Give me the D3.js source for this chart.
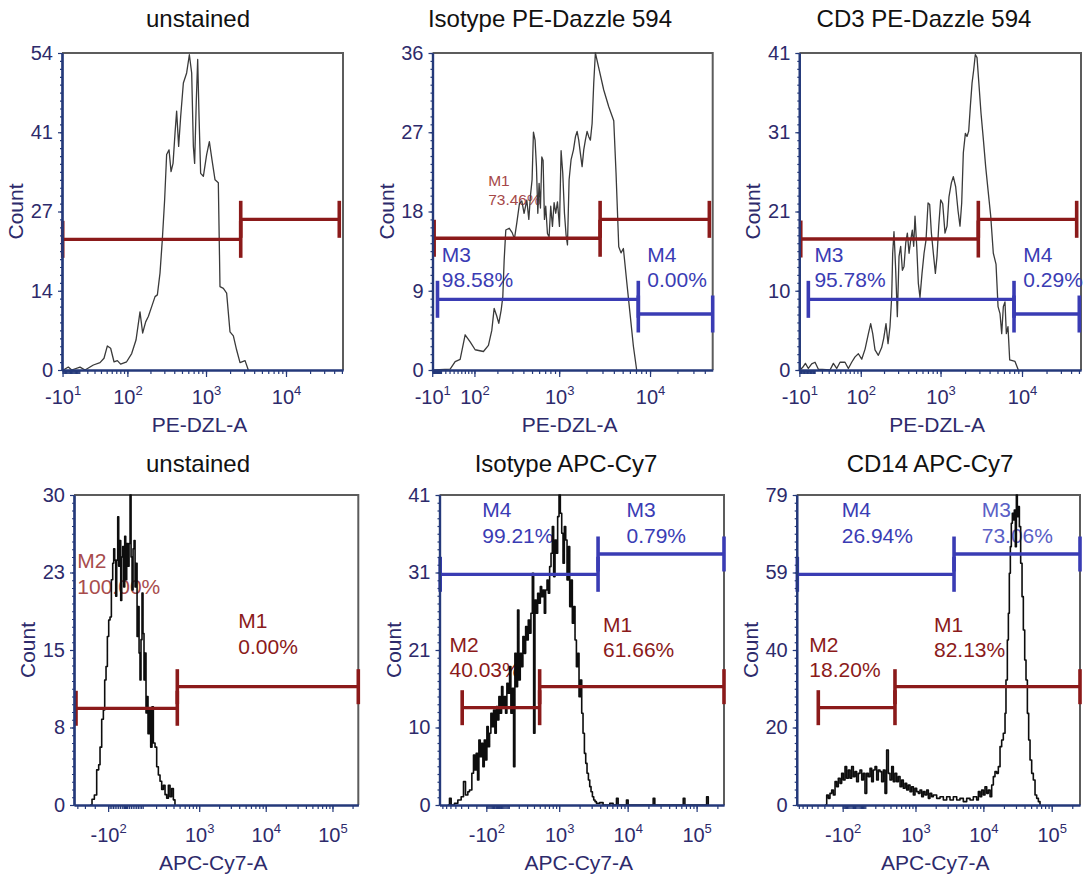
<!DOCTYPE html>
<html>
<head>
<meta charset="utf-8">
<script src="https://cdn.jsdelivr.net/npm/d3@7"></script>
<style>
  body { margin: 0; background: #fff; }
  svg text { font-family: "Liberation Sans", Arial, sans-serif; }
</style>
</head>
<body>
<svg id="chart" width="1087" height="879"></svg>
<script>
// Flow cytometry histograms - six panels (PE-Dazzle 594 row, APC-Cy7 row)

// ---- data -------------------------------------------------------------
const titles = ['unstained', 'Isotype PE-Dazzle 594', 'CD3 PE-Dazzle 594',
                'unstained', 'Isotype APC-Cy7', 'CD14 APC-Cy7'];
const xLabels = ['PE-DZL-A', 'PE-DZL-A', 'PE-DZL-A', 'APC-Cy7-A', 'APC-Cy7-A', 'APC-Cy7-A'];
const yMaxes = [54, 36, 41, 30, 41, 79];

// x extent of each plot in display decades (biexponential channel units)
const xDomains = [[1.2, 4.7125], [1.608, 4.689], [1.267, 4.724],
                  [1.127, 5.387], [1.272, 5.397], [1.269, 5.414]];
// width of the linear region around zero used by each display transform
const linWidths = [20.5, 45, 23, 79, 130, 128];

// tick values and labels [value, base, exponent]
const peTicks = [[-10, '-10', '1'], [100, '10', '2'], [1000, '10', '3'], [10000, '10', '4']];
const apcTicks = [[-100, '-10', '2'], [1000, '10', '3'], [10000, '10', '4'], [100000, '10', '5']];

// histograms: [channel (decades), count]
const histUnstainedPE = [[1.2,0],[1.217,0],[1.279,0.5],[1.321,0],[1.425,0.5],[1.488,0],[1.592,0.85],[1.675,1.25],
  [1.725,2],[1.767,4.1],[1.808,3.7],[1.85,1.4],[1.892,1.6],[1.933,1.0],[2.008,1.4],[2.071,2.8],[2.125,5.1],
  [2.175,9.9],[2.208,6.3],[2.246,8.2],[2.279,9.1],[2.321,10.8],[2.363,12.5],[2.392,12.8],[2.425,16.5],
  [2.454,22.2],[2.483,29],[2.508,36.7],[2.538,37.5],[2.563,33.8],[2.588,35.2],[2.613,40.4],[2.633,44.1],
  [2.658,38.1],[2.683,43.1],[2.717,48.9],[2.758,50.6],[2.792,53.7],[2.821,50.6],[2.842,38.1],[2.858,35.2],
  [2.879,46],[2.896,52.9],[2.913,43.2],[2.933,33.5],[2.967,33],[3.008,36.7],[3.042,38.9],[3.075,35.8],
  [3.113,32.4],[3.154,31.9],[3.175,14.2],[3.217,13.9],[3.258,13.1],[3.3,6.5],[3.342,5.8],[3.383,3.4],
  [3.425,1.25],[3.488,1.6],[3.529,0]];

const histIsotypePE = [[1.626,0],[1.802,0.1],[1.857,0.95],[1.912,1.2],[1.967,4.0],[2.022,3.2],[2.077,2.3],
  [2.168,2.1],[2.223,2.8],[2.26,4.5],[2.286,7.0],[2.315,6.1],[2.337,5.3],[2.363,6.8],[2.381,8.3],[2.396,12.5],
  [2.414,15.9],[2.451,16.1],[2.484,15.6],[2.509,14.9],[2.535,16.7],[2.564,18.9],[2.59,19.2],[2.615,17.8],
  [2.645,19.3],[2.667,17.1],[2.685,19.8],[2.703,21.6],[2.718,27],[2.736,26.1],[2.751,23.1],[2.766,17.8],
  [2.78,21.2],[2.795,18.4],[2.81,24.2],[2.824,23.8],[2.839,17.1],[2.853,18.6],[2.872,15.5],[2.89,15.1],
  [2.908,18.6],[2.927,16.3],[2.945,19],[2.963,17.8],[2.982,19.1],[3.004,16.3],[3.022,24.9],[3.04,22.4],
  [3.059,17.8],[3.077,15.3],[3.092,14.2],[3.11,21.6],[3.132,23.9],[3.158,25],[3.18,26.5],[3.198,27.1],
  [3.216,26.1],[3.234,24.6],[3.253,23.1],[3.271,25],[3.289,26.1],[3.308,27.1],[3.326,26.5],[3.344,26.1],
  [3.363,28],[3.381,32.6],[3.399,36],[3.436,34.3],[3.491,31.8],[3.546,29.9],[3.601,28.3],[3.626,22.4],
  [3.656,14],[3.681,13.3],[3.707,13.8],[3.744,10],[3.78,6.4],[3.817,2.7],[3.853,0]];

const histCD3 = [[1.267,0],[1.276,0],[1.309,0.35],[1.342,0.86],[1.378,0.2],[1.419,0.8],[1.46,1.0],[1.501,0.1],
  [1.644,0],[1.685,0.86],[1.726,0.2],[1.767,1.0],[1.828,1.0],[1.869,0.2],[1.91,1.0],[1.951,1.7],[1.992,2.1],
  [2.033,1.4],[2.074,2.7],[2.115,4.7],[2.143,6.0],[2.168,4.7],[2.196,2.6],[2.237,1.9],[2.278,2.9],[2.303,4.1],
  [2.331,6.0],[2.356,3.4],[2.38,5.6],[2.401,9.5],[2.413,15.1],[2.429,17.9],[2.45,12.9],[2.47,6.9],[2.491,14.7],
  [2.511,16],[2.532,12.9],[2.552,13.4],[2.573,16.4],[2.593,17.7],[2.614,15.1],[2.634,16.8],[2.654,18.1],
  [2.671,16],[2.687,19.9],[2.708,16],[2.728,11.2],[2.748,9.4],[2.773,12.5],[2.798,15.1],[2.822,16.8],
  [2.847,21.6],[2.867,21.4],[2.888,17.7],[2.912,15.1],[2.937,12.5],[2.957,14.7],[2.978,18.6],[3.002,22],
  [3.027,21.5],[3.055,17.7],[3.08,18.6],[3.104,22.4],[3.133,24.2],[3.157,25],[3.186,23.7],[3.215,20.6],
  [3.239,18.6],[3.26,21.6],[3.28,28.1],[3.305,30.6],[3.325,30.2],[3.346,30.9],[3.366,34.1],[3.387,37.1],
  [3.407,38.8],[3.427,40.8],[3.448,40.4],[3.472,36.9],[3.497,33.2],[3.526,29.8],[3.554,26.3],[3.583,23.3],
  [3.616,19.9],[3.648,15.1],[3.681,13.7],[3.706,8.2],[3.73,7.3],[3.751,4.7],[3.771,8.2],[3.791,8.8],
  [3.808,4.7],[3.828,5.6],[3.849,1.3],[3.914,1.1],[3.955,0]];

const histUnstainedAPC = [[1.367,0],[1.397,0.55],[1.432,0.97],[1.467,3.4],[1.497,3.9],[1.517,5.6],[1.542,8.3],
  [1.567,9.2],[1.587,12.1],[1.607,13.4],[1.627,16.3],[1.647,17.9],[1.667,18.2],[1.687,21.8],[1.707,23.4],
  [1.722,24.8],[1.737,23.7],[1.752,20.2],[1.767,23.7],[1.782,27.9],[1.797,23.1],[1.812,25.6],[1.827,19.8],
  [1.842,24],[1.857,25],[1.872,21.1],[1.887,26],[1.902,21.8],[1.917,25.3],[1.937,23.1],[1.952,25.3],
  [1.967,30],[1.982,24],[1.997,20.8],[2.012,24.8],[2.027,25.6],[2.042,21.1],[2.057,23.4],[2.072,16.3],
  [2.087,19.2],[2.102,14.7],[2.116,12.1],[2.131,16],[2.146,20.5],[2.161,16.6],[2.176,12.1],[2.191,14.7],
  [2.206,8.9],[2.221,10.5],[2.236,6.9],[2.256,9.2],[2.276,5.6],[2.296,9.5],[2.316,6.0],[2.341,5.6],
  [2.366,3.7],[2.391,2.9],[2.416,2.3],[2.441,1.5],[2.466,1.9],[2.491,1.0],[2.516,0.65],[2.541,1.9],
  [2.566,0.8],[2.591,1.6],[2.616,0.5],[2.64,0]];

const histIsotypeAPC = [[1.393,0],[1.417,0.88],[1.441,0],[1.489,0.22],[1.538,0.66],[1.586,1.1],[1.62,3.09],
  [1.649,1.32],[1.683,1.76],[1.707,1.98],[1.741,4.19],[1.765,6.61],[1.785,4.63],[1.804,6.83],[1.824,3.31],
  [1.843,8.6],[1.863,6.39],[1.882,8.16],[1.901,5.07],[1.921,8.6],[1.94,5.95],[1.959,10.36],[1.979,7.72],
  [1.998,9.48],[2.017,12.13],[2.037,10.36],[2.056,12.57],[2.075,9.48],[2.095,13.01],[2.114,11.24],
  [2.133,14.33],[2.153,12.13],[2.172,15.65],[2.191,13.01],[2.211,14.33],[2.23,12.13],[2.249,16.09],
  [2.269,14.77],[2.288,18.3],[2.307,12.13],[2.327,15.43],[2.346,5.07],[2.365,20.06],[2.385,15.65],
  [2.404,25.8],[2.423,16.53],[2.443,20.06],[2.462,18.3],[2.481,22.27],[2.501,20.06],[2.521,23.59],
  [2.54,21.82],[2.559,24.47],[2.579,22.71],[2.598,25.36],[2.618,30.65],[2.637,9.48],[2.656,27.12],
  [2.676,25.36],[2.695,28.0],[2.714,26.68],[2.734,28.88],[2.753,27.56],[2.772,28.44],[2.792,25.36],
  [2.811,28.44],[2.831,29.76],[2.85,28.0],[2.869,31.53],[2.889,33.29],[2.908,36.82],[2.927,30.21],
  [2.947,35.05],[2.966,33.29],[2.985,38.14],[3.005,41],[3.024,38.58],[3.044,35.94],[3.063,31.97],
  [3.082,36.82],[3.102,35.05],[3.121,29.76],[3.14,34.17],[3.16,26.24],[3.179,29.76],[3.198,24.03],
  [3.218,26.24],[3.237,21.82],[3.257,18.3],[3.276,20.06],[3.295,14.33],[3.315,16.53],[3.334,12.13],
  [3.353,9.48],[3.373,6.83],[3.392,5.51],[3.411,4.19],[3.431,3.31],[3.45,2.43],[3.469,1.76],[3.489,1.1],
  [3.508,0.66],[3.527,0.44],[3.547,0.22],[3.595,0.31],[3.644,0],[3.741,0.22],[3.789,0],[3.838,0.88],
  [3.862,0],[3.983,0.66],[4.007,0],[4.37,0.88],[4.394,0],[4.806,0.88],[4.83,0],[5.145,1.1],[5.169,0]];

const histCD14 = [[1.683,0],[1.708,2.55],[1.732,1.7],[1.756,2.97],[1.781,3.82],[1.805,2.55],[1.83,5.95],
  [1.854,4.67],[1.878,6.8],[1.903,5.52],[1.927,8.07],[1.951,6.37],[1.976,9.77],[2.0,6.8],[2.025,8.92],
  [2.049,6.8],[2.073,9.77],[2.098,7.22],[2.122,8.5],[2.146,5.95],[2.171,8.07],[2.195,8.92],[2.22,6.37],
  [2.244,8.07],[2.268,2.97],[2.293,8.07],[2.317,7.22],[2.342,9.34],[2.366,5.95],[2.39,8.92],[2.415,9.77],
  [2.439,6.37],[2.463,8.92],[2.488,8.5],[2.512,5.95],[2.537,8.92],[2.561,2.97],[2.585,14.02],[2.61,8.07],
  [2.634,6.37],[2.659,9.77],[2.683,5.95],[2.707,8.07],[2.732,5.95],[2.756,7.22],[2.781,4.67],[2.805,6.37],
  [2.829,4.25],[2.854,5.52],[2.878,3.82],[2.902,5.1],[2.927,3.4],[2.951,4.67],[2.976,2.55],[3.0,4.25],
  [3.024,3.4],[3.049,2.97],[3.073,3.82],[3.098,2.12],[3.122,3.4],[3.146,2.55],[3.171,3.82],[3.195,1.7],
  [3.219,2.97],[3.244,2.12],[3.268,2.55],[3.317,1.7],[3.366,2.12],[3.415,1.27],[3.463,2.12],[3.512,1.27],
  [3.561,2.12],[3.61,1.27],[3.658,1.7],[3.707,0.85],[3.756,1.7],[3.805,1.27],[3.853,2.12],[3.902,1.27],
  [3.927,3.4],[3.951,2.12],[3.975,3.82],[4.0,2.55],[4.024,4.67],[4.049,2.97],[4.073,3.82],[4.098,2.12],
  [4.122,5.1],[4.146,7.22],[4.17,8.5],[4.195,8.07],[4.219,9.77],[4.244,14.87],[4.268,16.57],[4.292,18.27],
  [4.317,23.36],[4.331,31.86],[4.351,42.05],[4.366,48.85],[4.38,59.04],[4.395,65.84],[4.409,71.79],
  [4.424,74.33],[4.439,72.64],[4.453,75.18],[4.468,65.84],[4.483,79],[4.497,73.48],[4.512,76.03],
  [4.527,70.94],[4.546,61.59],[4.566,53.09],[4.585,44.6],[4.605,36.95],[4.624,31.86],[4.644,23.36],
  [4.663,16.57],[4.683,11.47],[4.707,8.07],[4.731,6.37],[4.756,2.55],[4.78,1.7],[4.805,0.85],[4.829,0]];

// gates: [name, from (decades), to (decades), count level]
const gatesUnstainedPE = [['M1', 1.209, 3.434, 22.26], ['M2', 3.434, 4.666, 25.67]];
const gatesIsotypePE = [['M1', 1.626, 3.451, 14.96], ['M2', 3.451, 4.652, 17.11],
                        ['M3', 1.663, 3.871, 8.03], ['M4', 3.871, 4.689, 6.36]];
const gatesCD3 = [['M1', 1.285, 3.464, 16.94], ['M2', 3.464, 4.671, 19.49],
                  ['M3', 1.378, 3.902, 9.14], ['M4', 3.902, 4.703, 7.24]];
const gatesUnstainedAPC = [['M2', 1.157, 2.675, 9.36], ['M1', 2.675, 5.387, 11.45]];
const gatesIsotypeAPC = [['M4', 1.282, 3.571, 30.51], ['M3', 3.571, 5.397, 33.2],
                         ['M2', 1.601, 2.724, 12.87], ['M1', 2.724, 5.397, 15.65]];
const gatesCD14 = [['M4', 1.278, 3.571, 58.79], ['M3', 3.571, 5.414, 63.96],
                   ['M2', 1.585, 2.707, 24.8], ['M1', 2.707, 5.414, 30.15]];

// gate statistics: [name, percent, anchor decades, anchor count]
const statsUnstainedPE = [];
const statsIsotypePE = [['M1', '73.46%', 2.22, 20.9], ['M3', '98.58%', 1.711, 12.3], ['M4', '0.00%', 3.97, 12.3]];
const statsCD3 = [['M3', '95.78%', 1.452, 14.0], ['M4', '0.29%', 4.016, 14.0]];
const statsUnstainedAPC = [['M2', '100.00%', 1.177, 22.9], ['M1', '0.00%', 3.589, 17.1]];
const statsIsotypeAPC = [['M4', '99.21%', 1.892, 38.05], ['M3', '0.79%', 3.983, 38.05],
                         ['M2', '40.03%', 1.417, 20.28], ['M1', '61.66%', 3.643, 22.92]];
const statsCD14 = [['M4', '26.94%', 1.928, 73.3], ['M3', '73.06%', 3.976, 73.3],
                   ['M2', '18.20%', 1.454, 39.07], ['M1', '82.13%', 3.278, 44.16]];

const hists = [histUnstainedPE, histIsotypePE, histCD3, histUnstainedAPC, histIsotypeAPC, histCD14];
const gates = [gatesUnstainedPE, gatesIsotypePE, gatesCD3, gatesUnstainedAPC, gatesIsotypeAPC, gatesCD14];
const stats = [statsUnstainedPE, statsIsotypePE, statsCD3, statsUnstainedAPC, statsIsotypeAPC, statsCD14];

// ---- layout -----------------------------------------------------------
const boxes = [
  { x0: 62, x1: 343, y0: 53, y1: 370 },
  { x0: 432.5, x1: 712.7, y0: 53, y1: 370 },
  { x0: 799.3, x1: 1081, y0: 53, y1: 370 },
  { x0: 74, x1: 358.3, y0: 495, y1: 805 },
  { x0: 439.5, x1: 724, y0: 495, y1: 805 },
  { x0: 796.7, x1: 1080, y0: 495, y1: 805 }
];
const titleX = [198, 550, 924, 198, 566, 930];

const navy = '#2d2a6b';
const axisBlue = '#24397a';
const red = '#8b1a1a';
const blue = '#3a3cb4';
const gateColour = name => (name === 'M1' || name === 'M2') ? red : blue;
// a few labels sit under the histogram and print lighter in the original
const statStyle = {
  '1:M1': { fill: '#a54848', size: 15.5 },
  '3:M2': { fill: '#a84c4c', size: 21 },
  '5:M3': { fill: '#5a60c6', size: 21 }
};

// biexponential-like display transform: ~log10 for large values, linear near 0
const displayOf = (v, w) => Math.asinh(v / (2 * w)) / Math.LN10 + Math.log10(w);

const svg = d3.select('#chart');

titles.forEach((title, i) => {
  const b = boxes[i];
  const top = i < 3;
  const dom = xDomains[i];
  const w = linWidths[i];
  const yMax = yMaxes[i];

  const x = d3.scaleLinear().domain(dom).range([b.x0, b.x1]);
  const y = d3.scaleLinear().domain([0, yMax]).range([b.y1, b.y0]);

  const g = svg.append('g').attr('class', 'panel');

  // title
  g.append('text')
    .attr('x', titleX[i])
    .attr('y', top ? 27 : 472)
    .attr('text-anchor', 'middle')
    .attr('font-size', 24)
    .attr('fill', '#111')
    .text(title);

  // frame: gray top/right
  g.append('path')
    .attr('d', `M${b.x0},${b.y0}H${b.x1}V${b.y1}`)
    .attr('fill', 'none')
    .attr('stroke', '#5c5c5c')
    .attr('stroke-width', 2);

  // stat labels (below the histogram)
  stats[i].forEach(s => {
    const st = statStyle[i + ':' + s[0]] || { fill: gateColour(s[0]), size: 21 };
    const t = g.append('text')
      .attr('x', x(s[2]))
      .attr('y', y(s[3]))
      .attr('font-size', st.size)
      .attr('fill', st.fill);
    t.append('tspan').text(s[0]);
    t.append('tspan').attr('x', x(s[2])).attr('dy', st.size * 1.2).text(s[1]);
  });

  // histogram: bottom row is binned on fine channels, drawn as steps
  const line = d3.line()
    .curve(top ? d3.curveLinear : d3.curveStepAfter)
    .x(d => x(d[0])).y(d => y(d[1]));
  g.append('path')
    .datum(hists[i])
    .attr('d', line)
    .attr('fill', 'none')
    .attr('stroke', top ? '#3a3a3a' : '#0d0d0d')
    .attr('stroke-width', top ? 1.3 : 1.6)
    .attr('stroke-linejoin', 'round');

  // gates
  const capH = top ? 18.5 : 17.5;
  gates[i].forEach(gt => {
    const c = gateColour(gt[0]);
    const yy = y(gt[3]);
    const gg = g.append('g').attr('stroke', c).attr('stroke-width', 3.3).attr('fill', 'none');
    gg.append('line').attr('x1', x(gt[1])).attr('x2', x(gt[2])).attr('y1', yy).attr('y2', yy);
    [gt[1], gt[2]].forEach(v => {
      gg.append('line').attr('x1', x(v)).attr('x2', x(v))
        .attr('y1', yy - capH).attr('y2', yy + capH)
        .attr('stroke-width', 3.6);
    });
  });

  // x axis
  const tickDefs = top ? peTicks : apcTicks;
  const majorPos = tickDefs.map(t => displayOf(t[0], w));
  const minorVals = [];
  [1, 10, 100, 1000, 10000, 100000].forEach(p => {
    d3.range(1, 10).forEach(k => { minorVals.push(k * p, -k * p); });
  });
  minorVals.push(0);
  const minorPos = minorVals.map(v => displayOf(v, w)).filter(p => p >= dom[0] && p <= dom[1]);

  const xAxisG = g.append('g').attr('transform', `translate(0,${b.y1})`);
  xAxisG.append('g').call(d3.axisBottom(x).tickValues(minorPos).tickSize(4).tickSizeOuter(0).tickFormat(''));
  const majorG = xAxisG.append('g')
    .call(d3.axisBottom(x).tickValues(majorPos).tickSize(7).tickSizeOuter(0));
  majorG.selectAll('.tick text').each(function(d, k) {
    const t = d3.select(this);
    t.text(null).attr('dy', null).attr('y', top ? 34 : 37)
      .attr('font-size', 20).attr('fill', navy);
    t.append('tspan').text(tickDefs[k][1]);
    t.append('tspan').attr('dy', -9).attr('font-size', 13).text(tickDefs[k][2]);
  });
  xAxisG.selectAll('.domain').attr('stroke', axisBlue).attr('stroke-width', 2.2);
  xAxisG.selectAll('.tick line').attr('stroke', axisBlue).attr('stroke-width', 1.2);

  // y axis
  const yAxisG = g.append('g').attr('transform', `translate(${b.x0},0)`);
  yAxisG.append('g').call(d3.axisLeft(y).tickValues(d3.range(0, 41).map(k => yMax * k / 40))
    .tickSize(2).tickSizeOuter(0).tickFormat(''));
  yAxisG.append('g').call(d3.axisLeft(y).tickValues([0, 0.25, 0.5, 0.75, 1].map(k => yMax * k))
    .tickSize(4).tickSizeOuter(0).tickPadding(5).tickFormat(d => Math.round(d)))
    .selectAll('.tick text').attr('font-size', 20).attr('fill', navy);
  yAxisG.selectAll('.domain').attr('stroke', axisBlue).attr('stroke-width', 2.2);
  yAxisG.selectAll('.tick line').attr('stroke', axisBlue).attr('stroke-width', 1.2);

  // axis titles
  g.append('text')
    .attr('x', (b.x0 + b.x1) / 2 - 3)
    .attr('y', top ? 432 : 870)
    .attr('text-anchor', 'middle')
    .attr('font-size', 21)
    .attr('fill', navy)
    .text(xLabels[i]);
  g.append('text')
    .attr('transform', `translate(${b.x0 - 39},${(b.y0 + b.y1) / 2}) rotate(-90)`)
    .attr('text-anchor', 'middle')
    .attr('font-size', 21)
    .attr('fill', navy)
    .text('Count');
});
</script>
</body>
</html>
